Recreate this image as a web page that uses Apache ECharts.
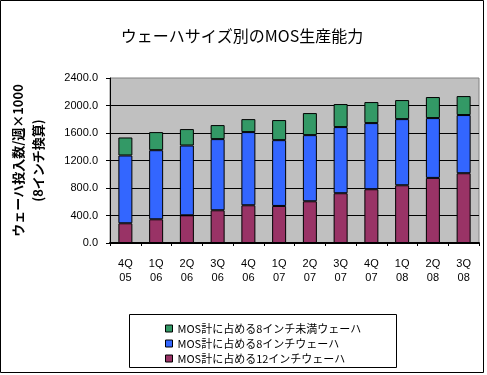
<!DOCTYPE html>
<html>
<head>
<meta charset="utf-8">
<script src="https://cdn.jsdelivr.net/npm/echarts@6/dist/echarts.min.js"></script>
<style>
  html, body { margin: 0; padding: 0; background: #fff; }
  #chart { width: 487px; height: 375px; }
</style>
</head>
<body>
<div id="chart"></div>
<script>
var quarters = ['4Q\n05', '1Q\n06', '2Q\n06', '3Q\n06', '4Q\n06', '1Q\n07', '2Q\n07', '3Q\n07', '4Q\n07', '1Q\n08', '2Q\n08', '3Q\n08'];
var names = ['MOS計に占める8インチ未満ウェーハ', 'MOS計に占める8インチウェーハ', 'MOS計に占める12インチウェーハ'];
var inch12 = [287, 345, 403, 476, 549, 539, 607, 724, 782, 840, 947, 1015];
var inch8 = [986, 1005, 1015, 1035, 1064, 957, 962, 962, 962, 962, 870, 846];
var under8 = [262, 263, 239, 204, 189, 292, 321, 335, 306, 277, 306, 276];

var jp = '"Noto Sans CJK JP", sans-serif';
var num = '"Liberation Sans", Arial, sans-serif';

function bar(name, data, color) {
    return {
        name: name,
        type: 'bar',
        stack: 'total',
        barWidth: 14,
        itemStyle: { color: color, borderColor: '#000', borderWidth: 1 },
        data: data
    };
}

var myChart = echarts.init(document.getElementById('chart'));
var option = {
    animation: false,
    title: {
        text: 'ウェーハサイズ別のMOS生産能力',
        left: 237,
        textAlign: 'center',
        top: 23,
        textStyle: { fontFamily: jp, fontSize: 16, fontWeight: 'normal', color: '#000' }
    },
    legend: {
        orient: 'vertical',
        left: 160,
        top: 318,
        itemWidth: 7,
        itemHeight: 7,
        itemGap: 4,
        icon: 'rect',
        itemStyle: { borderColor: '#000', borderWidth: 1 },
        textStyle: { fontFamily: jp, fontSize: 11, color: '#000', lineHeight: 11 },
        data: names
    },
    grid: {
        left: 91, right: 8, top: 78, bottom: 132,
        show: true,
        backgroundColor: '#C0C0C0',
        borderColor: '#808080',
        borderWidth: 1
    },
    xAxis: {
        type: 'category',
        data: quarters,
        axisLine: { lineStyle: { color: '#000', width: 2 } },
        axisTick: { show: true, length: 3, lineStyle: { color: '#000' } },
        axisLabel: { fontFamily: num, fontSize: 11, color: '#000', margin: 14, lineHeight: 14 }
    },
    yAxis: {
        type: 'value',
        min: 0,
        max: 2400,
        interval: 400,
        name: 'ウェーハ投入数/週×1000\n(8インチ換算)',
        nameLocation: 'middle',
        nameRotate: 90,
        nameGap: 62,
        nameTextStyle: { fontFamily: jp, fontSize: 13, fontWeight: 'bold', color: '#000', lineHeight: 20 },
        axisLine: { show: true, lineStyle: { color: '#000' } },
        axisTick: { show: true, length: 4, lineStyle: { color: '#000' } },
        axisLabel: {
            fontFamily: num, fontSize: 11, color: '#000', margin: 12,
            formatter: function (v) { return v.toFixed(1); }
        },
        splitLine: { show: true, showMaxLine: false, lineStyle: { color: '#000', width: 1 } }
    },
    graphic: [
        { type: 'rect', shape: { x: 0.5, y: 0.5, width: 483, height: 372 }, style: { fill: 'none', stroke: '#000', lineWidth: 1 }, silent: true },
        { type: 'rect', shape: { x: 129.5, y: 314.5, width: 267, height: 53 }, style: { fill: 'none', stroke: '#000', lineWidth: 1 }, silent: true }
    ],
    series: [
        bar(names[2], inch12, '#993366'),
        bar(names[1], inch8, '#3366FF'),
        bar(names[0], under8, '#339966')
    ]
};
myChart.setOption(option);
</script>
</body>
</html>
